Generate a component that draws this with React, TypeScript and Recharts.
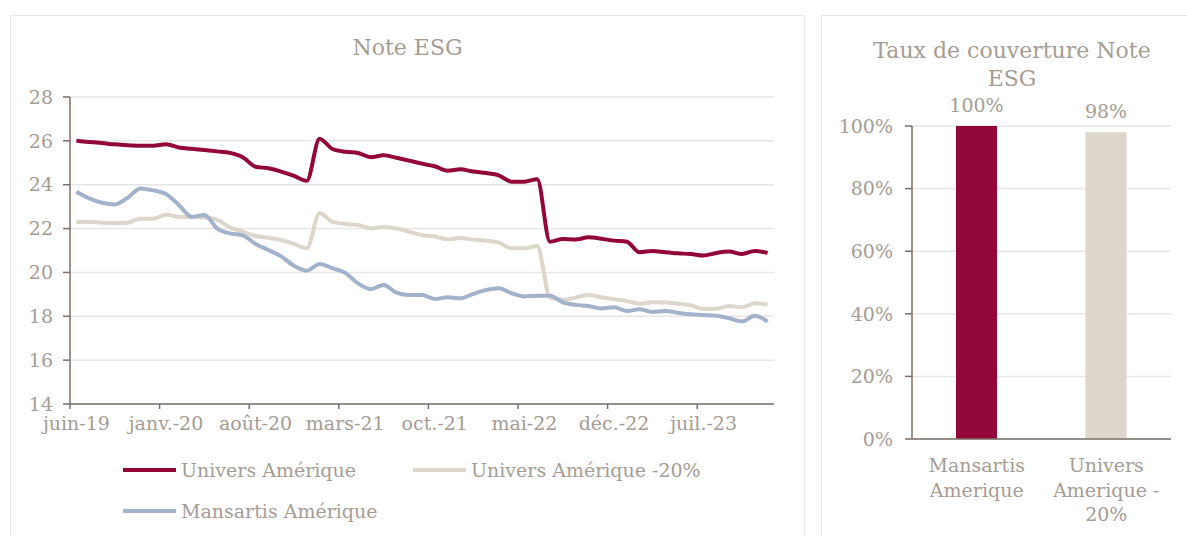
import React from "react";
import {
  Bar,
  BarChart,
  CartesianGrid,
  Cell,
  ComposedChart,
  LabelList,
  Line,
  XAxis,
  YAxis,
} from "recharts";

const months = [
  "juin-19", "juil.-19", "août-19", "sept.-19", "oct.-19", "nov.-19", "déc.-19",
  "janv.-20", "févr.-20", "mars-20", "avr.-20", "mai-20", "juin-20", "juil.-20",
  "août-20", "sept.-20", "oct.-20", "nov.-20", "déc.-20", "janv.-21", "févr.-21",
  "mars-21", "avr.-21", "mai-21", "juin-21", "juil.-21", "août-21", "sept.-21",
  "oct.-21", "nov.-21", "déc.-21", "janv.-22", "févr.-22", "mars-22", "avr.-22",
  "mai-22", "juin-22", "juil.-22", "août-22", "sept.-22", "oct.-22", "nov.-22",
  "déc.-22", "janv.-23", "févr.-23", "mars-23", "avr.-23", "mai-23", "juin-23",
  "juil.-23", "août-23", "sept.-23", "oct.-23", "nov.-23", "déc.-23",
];

const universAmerique = [
  26.0, 25.95, 25.9, 25.84, 25.8, 25.78, 25.78, 25.85, 25.7, 25.64, 25.58,
  25.52, 25.45, 25.25, 24.82, 24.75, 24.6, 24.4, 24.18, 26.1, 25.63, 25.5,
  25.45, 25.25, 25.34, 25.23, 25.1, 24.96, 24.84, 24.64, 24.7, 24.6, 24.53,
  24.43, 24.14, 24.14, 24.25, 21.4, 21.52, 21.5, 21.6, 21.54, 21.45, 21.4,
  20.92, 20.98, 20.92, 20.87, 20.84, 20.77, 20.89, 20.95, 20.84, 20.98, 20.89,
];

const universAmerique20 = [
  22.29, 22.31, 22.27, 22.25, 22.27, 22.45, 22.45, 22.63, 22.54, 22.52, 22.5,
  22.4, 22.05, 21.86, 21.66, 21.58, 21.48, 21.3, 21.1, 22.7, 22.31, 22.21,
  22.16, 22.0, 22.07, 22.0, 21.86, 21.7, 21.64, 21.51, 21.57, 21.5, 21.45,
  21.36, 21.1, 21.1, 21.2, 18.85, 18.75, 18.85, 18.97, 18.87, 18.78, 18.7,
  18.57, 18.64, 18.63, 18.57, 18.5, 18.33, 18.34, 18.47, 18.41, 18.6, 18.53,
];

const mansartisAmerique = [
  23.68, 23.38, 23.18, 23.1, 23.4, 23.83, 23.74, 23.58, 23.08, 22.54, 22.62,
  22.0, 21.78, 21.69, 21.3, 21.02, 20.73, 20.3, 20.08, 20.39, 20.19, 19.98,
  19.5, 19.24, 19.43, 19.08, 18.97, 18.97, 18.79, 18.87, 18.82, 19.02, 19.2,
  19.28, 19.05, 18.9, 18.94, 18.94, 18.64, 18.52, 18.47, 18.36, 18.41, 18.24,
  18.32, 18.2, 18.24, 18.16, 18.09, 18.06, 18.02, 17.91, 17.76, 18.02, 17.76,
];

const esgTicks = [14, 16, 18, 20, 22, 24, 26, 28];

const coverageCategories = ["Mansartis Amerique", "Univers Amerique -20%"];
const coverageLabelLines = [["Mansartis", "Amerique"], ["Univers", "Amerique -", "20%"]];
const coverageValues = [1, 0.98];
const coverageTicks = [0, 0.2, 0.4, 0.6, 0.8, 1];

const RED = "#93063a";
const BEIGE = "#ddd6cb";
const BLUE = "#a3b2cb";
const TEXT = "#a59c94";
const AXIS = "#7a6f68";
const GRID = "#e6e6e6";
const FONT = "'DejaVu Serif', serif";
const FS = 19;

const series = [
  { key: "univers", name: "Univers Amérique", color: RED, values: universAmerique },
  { key: "univers20", name: "Univers Amérique -20%", color: BEIGE, values: universAmerique20 },
  { key: "mansartis", name: "Mansartis Amérique", color: BLUE, values: mansartisAmerique },
];

const esgData = months.map((month, i) => ({
  month,
  univers: universAmerique[i],
  univers20: universAmerique20[i],
  mansartis: mansartisAmerique[i],
}));

const coverageData = coverageCategories.map((name, i) => ({
  name,
  value: coverageValues[i],
}));

const X_TICK_SIZE = 5;
const X_TICK_MARGIN = 2;

// tick mark sits on the category boundary, label stays centred on the month
function MonthTick(props: any) {
  const { x, y, payload } = props;
  const half = payload.offset || 704 / 55 / 2;
  const axisY = y - X_TICK_SIZE - X_TICK_MARGIN;
  return (
    <g>
      <line x1={x - half} x2={x - half} y1={axisY} y2={axisY + X_TICK_SIZE} stroke={AXIS} strokeWidth={1.5} />
      <text x={x} y={y} dy="0.98em" textAnchor="middle" fill={TEXT} fontSize={FS} fontFamily={FONT}>
        {payload.value}
      </text>
    </g>
  );
}

function CoverageTick(props: any) {
  const { x, y, index } = props;
  const lines = coverageLabelLines[index] ?? [];
  return (
    <text x={x} y={y + 25} textAnchor="middle" fill={TEXT} fontSize={FS} fontFamily={FONT}>
      {lines.map((line, i) => (
        <tspan key={i} x={x} dy={i === 0 ? 0 : 24.5}>
          {line}
        </tspan>
      ))}
    </text>
  );
}

function LegendItem({ name, color, left, top }: { name: string; color: string; left: number; top: number }) {
  return (
    <div style={{ position: "absolute", left, top, display: "flex", alignItems: "center", whiteSpace: "nowrap" }}>
      <span style={{ display: "inline-block", width: 53, height: 4, background: color, marginRight: 5 }} />
      <span style={{ color: TEXT, fontSize: FS, fontFamily: FONT }}>{name}</span>
    </div>
  );
}

export default function App() {
  const legendPos = [
    { left: 123, top: 459 },
    { left: 413, top: 459 },
    { left: 123, top: 500 },
  ];
  return (
    <div
      style={{
        position: "absolute",
        left: 0,
        top: 0,
        width: 1187,
        height: 536,
        overflow: "hidden",
        background: "#fff",
        fontFamily: FONT,
      }}
    >
      <div style={{ position: "absolute", left: 10, top: 15, width: 793, height: 600, border: "1.5px solid #e7e7e7" }} />
      <div style={{ position: "absolute", left: 821, top: 15, width: 400, height: 600, border: "1.5px solid #e7e7e7" }} />

      <div style={{ position: "absolute", left: 10, top: 35, width: 795, textAlign: "center", color: TEXT, fontSize: 22 }}>
        Note ESG
      </div>
      <div
        style={{
          position: "absolute",
          left: 822,
          top: 37,
          width: 380,
          textAlign: "center",
          color: TEXT,
          fontSize: 22,
          lineHeight: "28px",
        }}
      >
        Taux de couverture Note
        <br />
        ESG
      </div>

      <div style={{ position: "absolute", left: 0, top: 0 }}>
        <ComposedChart width={800} height={536} data={esgData} margin={{ top: 97, right: 26, bottom: 92, left: 10 }}>
          <CartesianGrid horizontal vertical={false} stroke={GRID} strokeWidth={1.5} />
          <XAxis
            dataKey="month"
            scale="band"
            interval={6}
            height={40}
            tickLine={false}
            tickSize={X_TICK_SIZE}
            tickMargin={X_TICK_MARGIN}
            axisLine={{ stroke: AXIS, strokeWidth: 1.5 }}
            tick={<MonthTick />}
          />
          <YAxis
            width={60}
            domain={[14, 28]}
            ticks={esgTicks}
            interval={0}
            tickSize={7}
            tickMargin={10}
            axisLine={{ stroke: AXIS, strokeWidth: 1.5 }}
            tickLine={{ stroke: AXIS, strokeWidth: 1.5 }}
            tick={{ fill: TEXT, fontSize: FS, fontFamily: FONT }}
          />
          {series.map((s) => (
            <Line
              key={s.key}
              dataKey={s.key}
              name={s.name}
              type="monotone"
              stroke={s.color}
              strokeWidth={4}
              dot={false}
              isAnimationActive={false}
            />
          ))}
        </ComposedChart>
      </div>

      {series.map((s, i) => (
        <LegendItem key={s.key} name={s.name} color={s.color} left={legendPos[i].left} top={legendPos[i].top} />
      ))}

      <div style={{ position: "absolute", left: 800, top: 0 }}>
        <BarChart
          width={387}
          height={536}
          data={coverageData}
          margin={{ top: 126, right: 16, bottom: 7, left: 52 }}
          barSize={41}
        >
          <CartesianGrid horizontal vertical={false} stroke={GRID} strokeWidth={1.5} />
          <XAxis
            dataKey="name"
            height={90}
            tickLine={false}
            interval={0}
            axisLine={{ stroke: AXIS, strokeWidth: 1.5 }}
            tick={<CoverageTick />}
          />
          <YAxis
            width={60}
            domain={[0, 1]}
            ticks={coverageTicks}
            interval={0}
            tickSize={7}
            tickMargin={12}
            tickFormatter={(v: number) => `${Math.round(v * 100)}%`}
            axisLine={{ stroke: AXIS, strokeWidth: 1.5 }}
            tickLine={{ stroke: AXIS, strokeWidth: 1.5 }}
            tick={{ fill: TEXT, fontSize: FS, fontFamily: FONT }}
          />
          <Bar dataKey="value" isAnimationActive={false}>
            {coverageData.map((d, i) => (
              <Cell key={d.name} fill={i === 0 ? RED : BEIGE} />
            ))}
            <LabelList
              dataKey="value"
              position="top"
              offset={14}
              fill={TEXT}
              fontSize={FS}
              fontFamily={FONT}
              formatter={(v: any) => `${Math.round(Number(v) * 100)}%`}
            />
          </Bar>
        </BarChart>
      </div>
    </div>
  );
}
